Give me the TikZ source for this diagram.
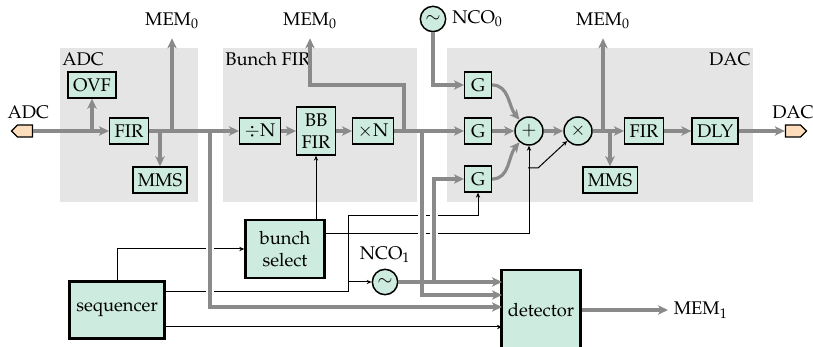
\documentclass[tikz,border=0pt]{standalone}
\usepackage[T1]{fontenc}
\usepackage{mathpazo}
\usetikzlibrary{arrows.meta,positioning,shapes.symbols}

\definecolor{boxfill}{RGB}{205,235,223}
\definecolor{portfill}{RGB}{253,221,188}
\definecolor{regiongray}{RGB}{229,229,229}
\definecolor{wiregray}{RGB}{138,138,138}

\begin{document}
\begin{tikzpicture}[x=0.6pt, y=-0.6pt, font=\fontsize{11}{13}\selectfont,
    region/.style={fill=regiongray},
    reglbl/.style={inner xsep=1.2pt, inner ysep=2.5pt},
    blk/.style={draw, fill=boxfill, line width=0.8pt, minimum height=15.6pt, inner xsep=3pt, inner ysep=1pt},
    bigblk/.style={draw, fill=boxfill, line width=1.5pt, align=center, inner sep=2pt},
    opcirc/.style={circle, draw, fill=boxfill, line width=0.9pt, minimum size=16.8pt, inner sep=0pt},
    oscil/.style={opcirc, minimum size=15.2pt},
    port/.style={signal, draw, fill=portfill, line width=0.8pt, minimum width=12.6pt, minimum height=7.2pt, inner sep=0pt},
    sig/.style={draw=wiregray, line width=1.9pt, -{Stealth[length=6pt,width=5.6pt,inset=1.6pt]}},
    ctl/.style={draw=black, line width=0.6pt, -{Stealth[length=3pt,width=2.6pt]}},
    halo/.style={preaction={draw=white, line width=4.5pt, -, shorten >=#1}},
    halo/.default=0pt]
    \useasboundingbox (0,0) rectangle (813,347);

    % grey regions
    \fill[region] (60,48) rectangle (198,202);
    \fill[region] (223,48) rectangle (417,202);
    \fill[region] (447,48) rectangle (753,202);
    \node[reglbl, anchor=north west] (adcreg) at (60,48) {ADC};
    \node[reglbl, anchor=north west] (bfreg) at (223,48) {Bunch FIR};
    \node[reglbl, anchor=north east] (dacreg) at (753,48) {DAC};

    % ADC
    \node[port, signal to=west] (adcin) at (25,131) {};
    \node[above=0pt of adcin, xshift=2pt] (adclbl) {ADC};
    \node[blk] (ovf) at (92,85) {OVF};
    \node[blk] (fir1) at (129,131) {FIR};
    \node[blk] (mms1) at (160,180) {MMS};
    \node (memA) at (172,21) {MEM$_0$};

    % Bunch FIR
    \node[blk] (div) at (260,131) {$\div$N};
    \node[blk, minimum height=28.8pt, align=center] (bbfir) at (316,131) {BB\\FIR};
    \node[blk] (muln) at (373,131) {$\times$N};
    \node (memB) at (310,21) {MEM$_0$};

    % DAC
    \node[oscil] (nco0) at (433,19) {$\sim$};
    \node[right=0pt of nco0] (nco0lbl) {NCO$_0$};
    \node[blk, minimum width=16pt] (g1) at (478,85) {G};
    \node[blk, minimum width=16pt] (g2) at (478,131) {G};
    \node[blk, minimum width=16pt] (g3) at (478,179) {G};
    \node[opcirc] (add) at (529,131) {$+$};
    \node[opcirc] (mul) at (578,131) {$\times$};
    \node (memC) at (603,21) {MEM$_0$};
    \node[blk] (mms2) at (610,180) {MMS};
    \node[blk] (fir3) at (644,131) {FIR};
    \node[blk] (dly) at (715,131) {DLY};
    \node[port, signal to=east] (dacout) at (793,131) {};
    \node[above=0pt of dacout] (daclbl) {DAC};

    % control and detection
    \node[bigblk, minimum width=57pt, minimum height=34pt] (seq) at (117,310) {sequencer};
    \node[bigblk, minimum width=47.4pt, minimum height=34.8pt] (bsel) at (285,249) {bunch\\select};
    \node[oscil] (nco1) at (385,282) {$\sim$};
    \node[above=0pt of nco1] (nco1lbl) {NCO$_1$};
    \node[bigblk, minimum width=47.4pt, minimum height=48pt] (det) at (541,310) {detector};
    \node[anchor=west] (mem1) at (668,310) {MEM$_1$};

    \coordinate (ja) at (210,131);   % to detector
    \coordinate (jb) at (422,131);   % to detector
    \coordinate (jc) at (434,282);   % NCO1 to G
    \coordinate (jd) at (404,131);   % to MEM0
    \coordinate (din1) at (502,282);
    \coordinate (din2) at (502,295);
    \coordinate (din3) at (502,307);
    \coordinate (din4) at (502,327);
    \coordinate (t1) at (348,292);
    \coordinate (t2) at (348,216);
    \coordinate (t3) at (324,234);
    \coordinate (t4) at (528,168);

    % thin control lines
    \draw[ctl] (seq.north) |- (bsel.west);
    \draw[ctl] (bsel.north -| bbfir.south) -- (bbfir.south);
    \draw[ctl] (seq.east |- t1) -- (t1) -- (t2) -| (g3.south);
    \draw[ctl] (t1 |- nco1.west) -- (nco1.west);
    \draw[ctl] (t3) -| (add.south);
    \draw[ctl] (t4) -- ++(10,0) -- (mul);
    \draw[ctl] (seq.east |- din4) -- (din4);

    % branches to the detector
    \draw[sig, halo=3pt] (ja) |- (din3);
    \draw[sig, halo=3pt] (jb) |- (din2);
    \draw[sig, halo=18pt] (jc) |- (g3.west);
    \draw[sig] (nco1.east) -- (din1);

    % main signal path
    \draw[sig] (adcin.east) -- (fir1.west);
    \draw[sig] (ovf.south |- fir1.west) -- (ovf.south);
    \draw[sig] (fir1.east) -- (div.west);
    \draw[sig] (mms1.north |- fir1.east) -- (mms1.north);
    \draw[sig, shorten >=2pt] (memA.south |- fir1.east) -- (memA.south);
    \draw[sig] (div) -- (bbfir);
    \draw[sig] (bbfir) -- (muln);
    \draw[sig] (muln.east) -- (g2.west);
    \draw[sig, shorten >=2pt] (jd) -- (jd |- g1) -| (memB.south);
    \draw[sig] (nco0.south) |- (g1.west);
    \draw[sig] (g1.east) to[out=0, in=130] (add);
    \draw[sig] (g2) -- (add);
    \draw[sig] (g3.east) to[out=0, in=-130] (add);
    \draw[sig] (add) -- (mul);
    \draw[sig] (mul) -- (fir3);
    \draw[sig, shorten >=2pt] (memC.south |- mul) -- (memC.south);
    \draw[sig] (mms2.north |- mul) -- (mms2.north);
    \draw[sig] (fir3) -- (dly);
    \draw[sig] (dly) -- (dacout.west);
    \draw[sig] (det.east |- mem1) -- (mem1.west);
\end{tikzpicture}
\end{document}
